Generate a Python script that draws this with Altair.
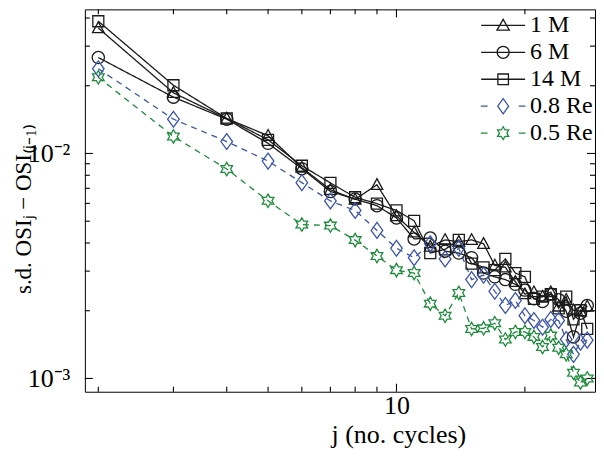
import altair as alt
import pandas as pd

# ---------------- data ----------------
j = list(range(2, 29))
m1 = [0.0361, 0.0186, 0.0143, 0.0120, 0.00865, 0.00690, 0.00625, 0.00726, 0.00527, 0.00446,
      0.00386, 0.00413, 0.00405, 0.00413, 0.00397, 0.00318, 0.00312, 0.00269, 0.00237, 0.00242,
      0.00231, 0.00242, 0.00209, 0.00224, 0.00201, 0.00199, 0.00209]
m6 = [0.0267, 0.0178, 0.0142, 0.0111, 0.00856, 0.00678, 0.00627, 0.00586, 0.00517, 0.00417,
      0.00421, 0.00368, 0.00361, 0.00344, 0.00294, 0.00283, 0.00275, 0.00262, 0.00247, 0.00226,
      0.00220, 0.00237, 0.00224, 0.00199, 0.00153, 0.00195, 0.00211]
m14 = [0.0387, 0.0201, 0.0143, 0.0115, 0.00882, 0.00740, 0.00639, 0.00598, 0.00558, 0.00502,
       0.00361, 0.00375, 0.00413, 0.00324, 0.00312, 0.00303, 0.00340, 0.00294, 0.00283, 0.00226,
       0.00231, 0.00237, 0.00205, 0.00231, 0.00183, 0.00201, 0.00166]
re08 = [0.0238, 0.0142, 0.0113, 0.00925, 0.00742, 0.00615, 0.00558, 0.00455, 0.00379, 0.00344,
        0.00397, 0.00340, 0.00379, 0.00275, 0.00288, 0.00244, 0.00211, 0.00222, 0.00190, 0.00181,
        0.00169, 0.00183, 0.00181, 0.00149, 0.00128, 0.00145, 0.00148]
re05 = [0.0218, 0.0119, 0.00853, 0.00616, 0.00483, 0.00478, 0.00412, 0.00350, 0.00303, 0.00294,
        0.00215, 0.00190, 0.00240, 0.00166, 0.00167, 0.00176, 0.00149, 0.00161, 0.00161, 0.00153,
        0.00138, 0.00155, 0.00137, 0.00128, 0.00106, 0.00096, 0.00100]

series_names = ["1 M", "6 M", "14 M", "0.8 Re", "0.5 Re"]
series_values = [m1, m6, m14, re08, re05]

y_major = [0.001, 0.01]
y_minor = [0.002, 0.003, 0.004, 0.005, 0.006, 0.007, 0.008, 0.009, 0.02, 0.03, 0.04]
x_major = [10]
x_minor = [2, 3, 4, 5, 6, 7, 8, 9, 20]

# ---------------- styling ----------------
W, H = 511, 383
FONT = "Liberation Serif"
FS = 26
YFS = 23
LFS = 24
colors = ["#1a1a1a", "#1a1a1a", "#1a1a1a", "#3d56a8", "#1f8c3d"]
dashes = [[1, 0], [1, 0], [1, 0], [6, 5], [6, 5]]

tri = "M0,-1L0.95,0.75L-0.95,0.75Z"
sq = "M-0.9,-0.9L0.9,-0.9L0.9,0.9L-0.9,0.9Z"
dia = "M0,-1.3L0.95,0L0,1.3L-0.95,0Z"
hexa = ("M0,-1.1L0.318,-0.55L0.953,-0.55L0.635,0L0.953,0.55L0.318,0.55L0,1.1"
        "L-0.318,0.55L-0.953,0.55L-0.635,0L-0.953,-0.55L-0.318,-0.55Z")
plot_shapes = [tri, "circle", sq, dia, hexa]

solid = "M-2.75,0L2.75,0"
dashed = "M-2.8,0L-1.95,0M1.95,0L2.8,0"
lg_tri = solid + "M0,-0.75L0.78,0.6L-0.78,0.6Z"
lg_cir = solid + "M0.75,0A0.75,0.75,0,1,1,-0.75,0A0.75,0.75,0,1,1,0.75,0Z"
lg_sq = solid + "M-0.66,-0.66L0.66,-0.66L0.66,0.66L-0.66,0.66Z"
lg_dia = dashed + "M0,-0.95L0.68,0L0,0.95L-0.68,0Z"
lg_hex = dashed + ("M0,-0.8L0.231,-0.4L0.693,-0.4L0.462,0L0.693,0.4L0.231,0.4L0,0.8"
                   "L-0.231,0.4L-0.693,0.4L-0.462,0L-0.693,-0.4L-0.231,-0.4Z")
legend_shapes = [lg_tri, lg_cir, lg_sq, lg_dia, lg_hex]

rows = []
for name, vals in zip(series_names, series_values):
    for jj, v in zip(j, vals):
        rows.append({"j": jj, "val": v, "series": name})
df = pd.DataFrame(rows)

XT = "j (no. cycles)"
YT = "s.d. OSIⱼ − OSI₍ⱼ₋₁₎"

xscale = alt.Scale(type="log", domain=[1.86, 29.2], nice=False)
yscale = alt.Scale(type="log", domain=[0.000873, 0.0437], nice=False)

xaxis = alt.Axis(values=x_major, labelExpr="'10'", ticks=False, tickSize=0, domain=False,
                 grid=False, labelFont=FONT, labelFontSize=FS, labelColor="black",
                 labelPadding=1, titleFont=FONT, titleFontSize=FS, titleFontWeight="normal",
                 titleColor="black", titleX=314, titleY=51, titleAlign="center",
                 titleBaseline="alphabetic")
yaxis = alt.Axis(values=y_major, labelExpr="datum.value < 0.005 ? '10⁻³' : '10⁻²'",
                 ticks=False, tickSize=0, domain=False, grid=False, labelFont=FONT,
                 labelFontSize=FS, labelColor="black", labelPadding=15, titleFont=FONT,
                 titleFontSize=YFS, titleFontWeight="normal", titleColor="black",
                 titleX=-54, titleY=H / 2 + 8, titleAngle=-90, titleAlign="center",
                 titleBaseline="alphabetic")

X = lambda f: alt.X(f, scale=xscale, axis=xaxis, title=XT)
Y = lambda f: alt.Y(f, scale=yscale, axis=yaxis, title=YT)

layers = []
# inward ticks, MATLAB box style
for vals, ln in [(y_major, 8), (y_minor, 5)]:
    d = pd.DataFrame({"val": vals})
    layers.append(alt.Chart(d).mark_rule(color="black", strokeWidth=1.1).encode(
        y=Y("val:Q"), x=alt.value(0), x2=alt.value(ln)))
    layers.append(alt.Chart(d).mark_rule(color="black", strokeWidth=1.1).encode(
        y=Y("val:Q"), x=alt.value(W - ln), x2=alt.value(W)))
for vals, ln in [(x_major, 8), (x_minor, 5)]:
    d = pd.DataFrame({"j": vals})
    layers.append(alt.Chart(d).mark_rule(color="black", strokeWidth=1.1).encode(
        x=X("j:Q"), y=alt.value(H - ln), y2=alt.value(H)))
    layers.append(alt.Chart(d).mark_rule(color="black", strokeWidth=1.1).encode(
        x=X("j:Q"), y=alt.value(0), y2=alt.value(ln)))

cscale = alt.Scale(domain=series_names, range=colors)
base = alt.Chart(df).encode(x=X("j:Q"), y=Y("val:Q"))

lines = base.mark_line(strokeWidth=1.3).encode(
    color=alt.Color("series:N", scale=cscale, legend=None),
    strokeDash=alt.StrokeDash("series:N", scale=alt.Scale(domain=series_names, range=dashes),
                              legend=None),
    detail="series:N",
)
points = base.mark_point(filled=False, size=150, strokeWidth=1.3, opacity=1).encode(
    color=alt.Color("series:N", scale=cscale, legend=None),
    shape=alt.Shape("series:N", scale=alt.Scale(domain=series_names, range=plot_shapes),
                    legend=None),
)

leg = alt.Legend(title=None, orient="none", legendX=407, legendY=4, padding=0, offset=0,
                 labelFont=FONT, labelFontSize=LFS, labelColor="black", labelOffset=15,
                 rowPadding=3, symbolSize=256, symbolStrokeWidth=1.3,
                 symbolFillColor="transparent", labelLimit=200)
legend_layer = base.transform_filter("datum.j < 0").mark_point(
    filled=False, size=256, strokeWidth=1.3, opacity=1).encode(
    color=alt.Color("series:N", scale=cscale, legend=leg),
    shape=alt.Shape("series:N", scale=alt.Scale(domain=series_names, range=legend_shapes),
                    legend=leg),
)

chart = alt.layer(*layers, lines, points, legend_layer).resolve_scale(
    shape="independent", color="independent"
).properties(
    width=W, height=H,
    padding={"left": 77, "top": 1, "right": 1, "bottom": 58},
    autosize=alt.AutoSizeParams(type="none"),
    background="white",
).configure_view(stroke="black", strokeWidth=1)

chart.save("out.html", embed_options={"renderer": "svg", "actions": False})
